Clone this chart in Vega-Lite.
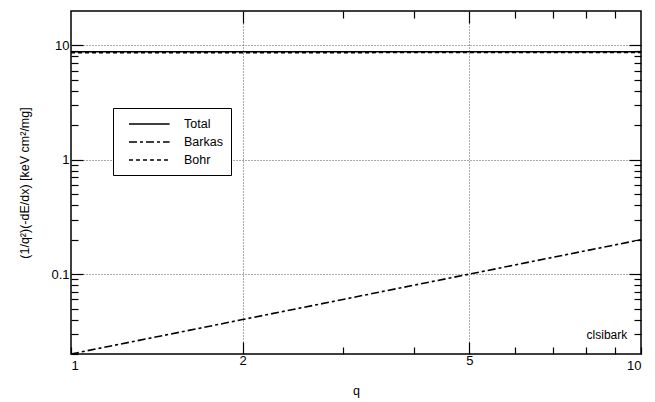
{
  "$schema": "https://vega.github.io/schema/vega-lite/v6.json",
  "width": 570,
  "height": 343,
  "autosize": "none",
  "padding": {"left": 71, "top": 11, "right": 14, "bottom": 48},
  "background": "white",
  "config": {
    "view": {"stroke": "black", "strokeWidth": 1.5},
    "font": "Liberation Sans",
    "axis": {
      "domain": false,
      "tickColor": "black",
      "tickWidth": 1.2,
      "labelFont": "Liberation Sans",
      "labelFontSize": 13,
      "labelColor": "black",
      "titleFont": "Liberation Sans",
      "titleFontSize": 12.5,
      "titleFontWeight": "normal",
      "titleColor": "black",
      "gridColor": "#555555",
      "gridDash": [1, 2],
      "gridWidth": 1
    }
  },
  "data": {
    "values": [
      {"q": 1, "v": 8.8, "series": "Total"},
      {"q": 2, "v": 8.8, "series": "Total"},
      {"q": 5, "v": 8.8, "series": "Total"},
      {"q": 10, "v": 8.8, "series": "Total"},
      {"q": 1, "v": 0.02, "series": "Barkas"},
      {"q": 2, "v": 0.04, "series": "Barkas"},
      {"q": 5, "v": 0.1, "series": "Barkas"},
      {"q": 10, "v": 0.2, "series": "Barkas"},
      {"q": 1, "v": 8.62, "series": "Bohr"},
      {"q": 2, "v": 8.64, "series": "Bohr"},
      {"q": 5, "v": 8.67, "series": "Bohr"},
      {"q": 10, "v": 8.7, "series": "Bohr"}
    ]
  },
  "layer": [
    {
      "mark": {"type": "line", "color": "black", "strokeWidth": 1.6},
      "encoding": {
        "x": {
          "field": "q", "type": "quantitative",
          "scale": {"type": "log", "domain": [1, 10], "nice": false},
          "axis": {
            "orient": "bottom",
            "values": [1, 2, 3, 4, 5, 6, 7, 8, 9, 10],
            "labelExpr": "(datum.value == 1 || datum.value == 2 || datum.value == 5 || datum.value == 10) ? format(datum.value, 'd') : ''",
            "grid": true,
            "gridOpacity": {"condition": {"test": "datum.value == 2 || datum.value == 5", "value": 1}, "value": 0},
            "tickSize": {"condition": {"test": "datum.value == 2 || datum.value == 5", "value": -12}, "value": -7},
            "labelPadding": 12,
            "title": "q",
            "titlePadding": 12
          }
        },
        "y": {
          "field": "v", "type": "quantitative",
          "scale": {"type": "log", "domain": [0.02, 20], "nice": false},
          "axis": {
            "orient": "left",
            "values": [0.02, 0.03, 0.04, 0.05, 0.06, 0.07, 0.08, 0.09, 0.1, 0.2, 0.3, 0.4, 0.5, 0.6, 0.7, 0.8, 0.9, 1, 2, 3, 4, 5, 6, 7, 8, 9, 10],
            "labelExpr": "(datum.value == 0.1 || datum.value == 1 || datum.value == 10) ? (datum.value + '') : ''",
            "grid": true,
            "gridOpacity": {"condition": {"test": "datum.value == 0.1 || datum.value == 1 || datum.value == 10", "value": 1}, "value": 0},
            "tickSize": {"condition": {"test": "datum.value == 0.1 || datum.value == 1 || datum.value == 10", "value": -12}, "value": -7},
            "labelPadding": 14,
            "title": "(1/q²)(-dE/dx) [keV cm²/mg]",
            "titlePadding": 19
          }
        },
        "strokeDash": {
          "field": "series", "type": "nominal",
          "scale": {"domain": ["Total", "Barkas", "Bohr"], "range": [[1, 0], [8, 3, 3, 3], [4, 3]]},
          "legend": {
            "orient": "none",
            "legendX": 42,
            "legendY": 97,
            "title": null,
            "strokeColor": "black",
            "fillColor": "white",
            "padding": 8,
            "symbolType": "M0,0H5.8",
            "symbolSize": 196,
            "symbolStrokeWidth": 1.6,
            "symbolStrokeColor": "black",
            "labelFont": "Liberation Sans",
            "labelFontSize": 12.5,
            "labelColor": "black",
            "labelOffset": 47,
            "rowPadding": 3
          }
        }
      }
    },
    {
      "mark": {"type": "line", "strokeOpacity": 0},
      "encoding": {
        "x": {
          "field": "q", "type": "quantitative",
          "axis": {
            "orient": "top",
            "values": [2, 3, 4, 5, 6, 7, 8, 9],
            "labels": false,
            "grid": false,
            "title": null,
            "tickSize": {"condition": {"test": "datum.value == 2 || datum.value == 5", "value": -12}, "value": -7}
          }
        },
        "y": {
          "field": "v", "type": "quantitative",
          "axis": {
            "orient": "right",
            "values": [0.03, 0.04, 0.05, 0.06, 0.07, 0.08, 0.09, 0.1, 0.2, 0.3, 0.4, 0.5, 0.6, 0.7, 0.8, 0.9, 1, 2, 3, 4, 5, 6, 7, 8, 9, 10],
            "labels": false,
            "grid": false,
            "title": null,
            "tickSize": {"condition": {"test": "datum.value == 0.1 || datum.value == 1 || datum.value == 10", "value": -12}, "value": -7}
          }
        },
        "detail": {"field": "series"}
      }
    },
    {
      "data": {"values": [{"q": 9.46, "v": 0.0292, "label": "clsibark"}]},
      "mark": {"type": "text", "align": "right", "baseline": "middle", "fontSize": 12, "font": "Liberation Sans", "color": "black"},
      "encoding": {
        "x": {"field": "q", "type": "quantitative", "axis": null},
        "y": {"field": "v", "type": "quantitative", "axis": null},
        "text": {"field": "label"}
      }
    }
  ],
  "resolve": {"axis": {"x": "independent", "y": "independent"}}
}
